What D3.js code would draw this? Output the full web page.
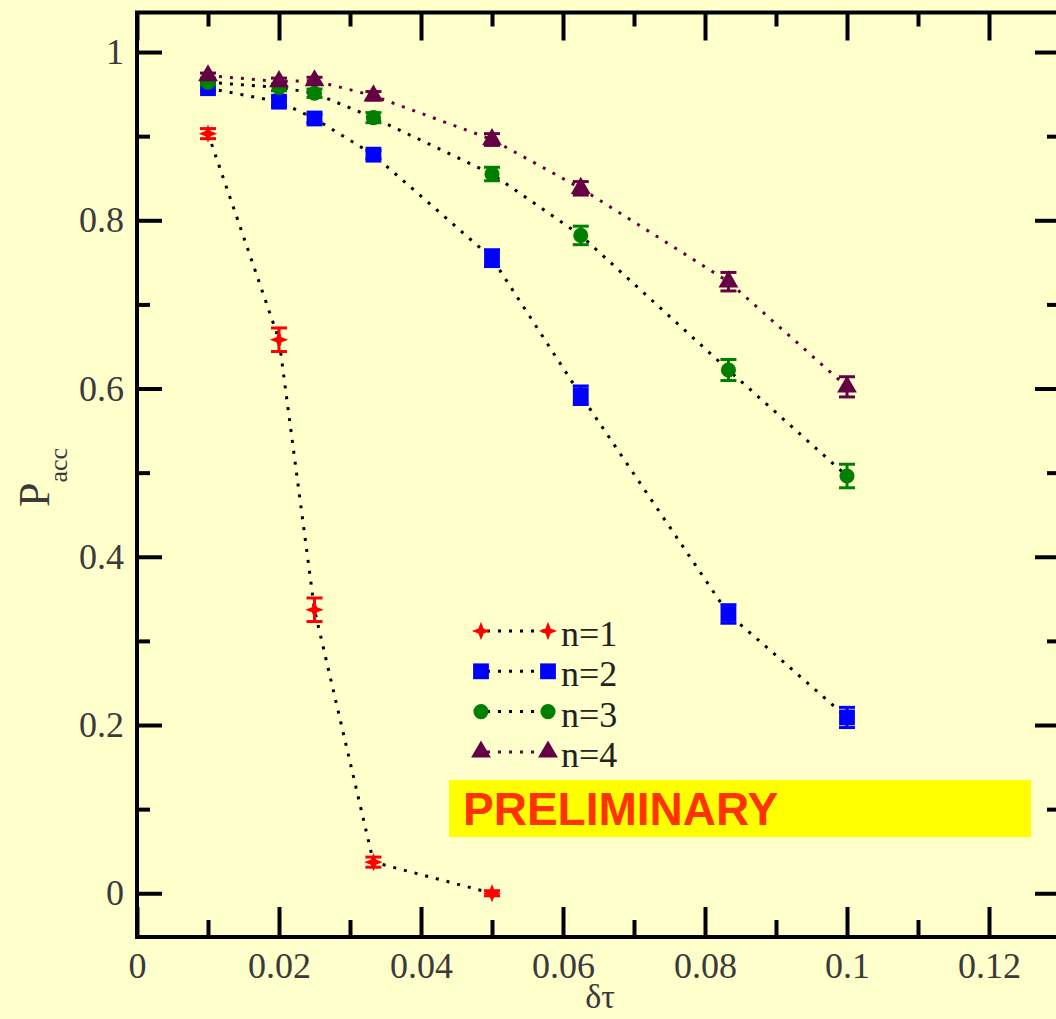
<!DOCTYPE html>
<html>
<head>
<meta charset="utf-8">
<script src="https://cdn.jsdelivr.net/npm/d3@7"></script>
<style>
  html, body { margin: 0; padding: 0; background: #ffffcc; }
  svg { display: block; }
</style>
</head>
<body>
<div id="chart"></div>
<script>
// values
const dtau = [0.01, 0.02, 0.025, 0.0333, 0.05, 0.0625, 0.0833, 0.1];
const accN1 = [0.903, 0.658, 0.337, 0.037, 0.0];
const errN1 = [0.006, 0.014, 0.014, 0.006, 0.003];
const accN2 = [0.957, 0.941, 0.921, 0.878, 0.755, 0.592, 0.332, 0.209];
const errN2 = [0.004, 0.005, 0.005, 0.005, 0.010, 0.011, 0.011, 0.012];
const accN3 = [0.964, 0.958, 0.951, 0.922, 0.855, 0.782, 0.622, 0.496];
const errN3 = [0.003, 0.004, 0.005, 0.006, 0.008, 0.011, 0.0125, 0.014];
const accN4 = [0.972, 0.965, 0.966, 0.948, 0.896, 0.838, 0.727, 0.602];
const errN4 = [0.003, 0.004, 0.004, 0.005, 0.007, 0.008, 0.011, 0.012];
const seriesNames = ['n=1', 'n=2', 'n=3', 'n=4'];
const xTicks = [0, 0.02, 0.04, 0.06, 0.08, 0.1, 0.12];
const xMinor = [0.01, 0.03, 0.05, 0.07, 0.09, 0.11];
const yTicks = [0, 0.2, 0.4, 0.6, 0.8, 1];
const yMinor = [0.1, 0.3, 0.5, 0.7, 0.9];

const width = 1056, height = 1019;
const plotLeft = 137, plotRight = 1060, plotTop = 12.5, plotBottom = 937;

// 4-point star used by the n=1 series
const symbolStar4 = {
  draw(ctx, size) {
    const r = Math.sqrt(size) * 0.62, ri = r * 0.4;
    for (let i = 0; i < 8; i++) {
      const a = i * Math.PI / 4 - Math.PI / 2;
      const rr = i % 2 ? ri : r;
      if (i === 0) ctx.moveTo(rr * Math.cos(a), rr * Math.sin(a));
      else ctx.lineTo(rr * Math.cos(a), rr * Math.sin(a));
    }
    ctx.closePath();
  }
};

const series = [
  { name: seriesNames[0], y: accN1, e: errN1, color: '#ff0000', line: '#000', sym: symbolStar4, size: 220 },
  { name: seriesNames[1], y: accN2, e: errN2, color: '#0000ff', line: '#000', sym: d3.symbolSquare, size: 250 },
  { name: seriesNames[2], y: accN3, e: errN3, color: '#008000', line: '#000', sym: d3.symbolCircle, size: 180 },
  { name: seriesNames[3], y: accN4, e: errN4, color: '#660044', line: '#660044', sym: d3.symbolTriangle, size: 170 }
];

const x = d3.scaleLinear().domain([0, 0.13]).range([plotLeft, plotRight]);
const y = d3.scaleLinear().domain([-0.052, 1.047]).range([plotBottom, plotTop]);

const svg = d3.select('#chart').append('svg')
  .attr('width', width).attr('height', height);

svg.append('rect').attr('width', width).attr('height', height).attr('fill', '#ffffcc');

const tickFont = 'Liberation Serif, Times New Roman, serif';

function styleAxis(g) {
  g.select('.domain').remove();
  g.selectAll('line').attr('stroke', '#000').attr('stroke-width', 4);
  g.selectAll('text').attr('fill', '#3a3a3a').style('font-family', tickFont).style('font-size', '36px');
}

// bottom
svg.append('g').attr('transform', `translate(0,${plotBottom})`)
  .call(d3.axisBottom(x).tickValues(xTicks).tickSize(-30).tickSizeOuter(0).tickPadding(15)
    .tickFormat(d => d === 0 ? '0' : d3.format('~g')(d)))
  .call(styleAxis);
svg.append('g').attr('transform', `translate(0,${plotBottom})`)
  .call(d3.axisBottom(x).tickValues(xMinor).tickSize(-17).tickFormat(''))
  .call(styleAxis);
// top
svg.append('g').attr('transform', `translate(0,${plotTop})`)
  .call(d3.axisTop(x).tickValues(xTicks).tickSize(-28).tickFormat(''))
  .call(styleAxis);
svg.append('g').attr('transform', `translate(0,${plotTop})`)
  .call(d3.axisTop(x).tickValues(xMinor).tickSize(-14).tickFormat(''))
  .call(styleAxis);
// left
svg.append('g').attr('transform', `translate(${plotLeft},0)`)
  .call(d3.axisLeft(y).tickValues(yTicks).tickSize(-25).tickPadding(13)
    .tickFormat(d => d3.format('~g')(d)))
  .call(styleAxis);
svg.append('g').attr('transform', `translate(${plotLeft},0)`)
  .call(d3.axisLeft(y).tickValues(yMinor).tickSize(-13).tickFormat(''))
  .call(styleAxis);
// right
svg.append('g').attr('transform', `translate(${plotRight},0)`)
  .call(d3.axisRight(y).tickValues(yTicks).tickSize(-25).tickFormat(''))
  .call(styleAxis);
svg.append('g').attr('transform', `translate(${plotRight},0)`)
  .call(d3.axisRight(y).tickValues(yMinor).tickSize(-13).tickFormat(''))
  .call(styleAxis);

// frame
svg.append('rect')
  .attr('x', plotLeft).attr('y', plotTop)
  .attr('width', plotRight - plotLeft).attr('height', plotBottom - plotTop)
  .attr('fill', 'none').attr('stroke', '#000').attr('stroke-width', 4);

const line = d3.line().x(d => x(d[0])).y(d => y(d[1]));

series.forEach(s => {
  const pts = s.y.map((v, i) => [dtau[i], v, s.e[i]]);
  const g = svg.append('g');
  g.append('path').datum(pts).attr('d', line)
    .attr('fill', 'none').attr('stroke', s.line)
    .attr('stroke-width', 3).attr('stroke-dasharray', '3,8');

  const eb = g.selectAll('.eb').data(pts).join('g').attr('stroke', s.color).attr('stroke-width', 3);
  eb.append('line')
    .attr('x1', d => x(d[0])).attr('x2', d => x(d[0]))
    .attr('y1', d => y(d[1] - d[2])).attr('y2', d => y(d[1] + d[2]));
  eb.append('line')
    .attr('x1', d => x(d[0]) - 8).attr('x2', d => x(d[0]) + 8)
    .attr('y1', d => y(d[1] - d[2])).attr('y2', d => y(d[1] - d[2]));
  eb.append('line')
    .attr('x1', d => x(d[0]) - 8).attr('x2', d => x(d[0]) + 8)
    .attr('y1', d => y(d[1] + d[2])).attr('y2', d => y(d[1] + d[2]));

  g.selectAll('.pt').data(pts).join('path')
    .attr('transform', d => `translate(${x(d[0])},${y(d[1])})`)
    .attr('d', d3.symbol().type(s.sym).size(s.size))
    .attr('fill', s.color);
});

// legend
const legend = svg.append('g').attr('transform', 'translate(481,631)');
series.forEach((s, i) => {
  const g = legend.append('g').attr('transform', `translate(0,${i * 40.3})`);
  g.append('line').attr('x1', 0).attr('x2', 67).attr('y1', 0).attr('y2', 0)
    .attr('stroke', s.line).attr('stroke-width', 3).attr('stroke-dasharray', '3,8')
    .attr('stroke-dashoffset', -6);
  [0, 67].forEach(px => g.append('path')
    .attr('transform', `translate(${px},0)`)
    .attr('d', d3.symbol().type(s.sym).size(s.size))
    .attr('fill', s.color));
  g.append('text').attr('x', 80).attr('y', 15)
    .attr('fill', '#222')
    .style('font-family', tickFont).style('font-size', '36px')
    .text(s.name);
});

// PRELIMINARY banner
svg.append('rect').attr('x', 449).attr('y', 780).attr('width', 582).attr('height', 57).attr('fill', '#ffff00');
svg.append('text').attr('x', 463).attr('y', 825)
  .attr('fill', '#ff3300')
  .style('font-family', 'Liberation Sans, Arial, sans-serif').style('font-weight', 'bold').style('font-size', '46px')
  .text('PRELIMINARY');

// axis titles
const yl = svg.append('text')
  .attr('transform', 'translate(49,507) rotate(-90)')
  .attr('fill', '#3a3a3a').style('font-family', tickFont).style('font-size', '44px');
yl.append('tspan').text('P');
yl.append('tspan').attr('dy', 18).style('font-size', '26px').text('acc');

svg.append('text').attr('x', 600).attr('y', 1008).attr('text-anchor', 'middle')
  .attr('fill', '#3a3a3a').style('font-family', tickFont).style('font-size', '34px')
  .text('δτ');
</script>
</body>
</html>
